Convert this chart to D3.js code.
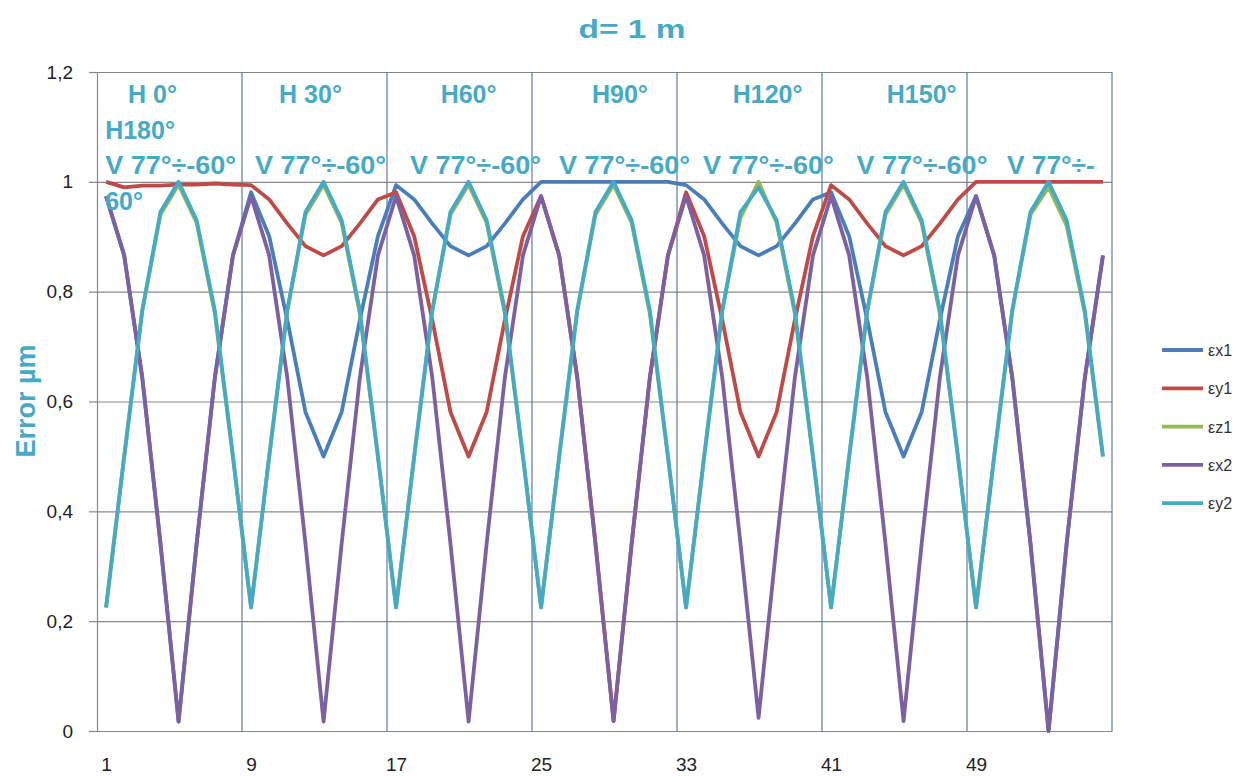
<!DOCTYPE html>
<html>
<head>
<meta charset="utf-8">
<script src="https://cdn.jsdelivr.net/npm/d3@7"></script>
<style>
  body { margin: 0; background: #fff; }
  text { font-family: "Liberation Sans", Arial, sans-serif; }
</style>
</head>
<body>
<div id="chart"></div>
<script>
// 56 measuring positions, 7 groups of 8 (H 0..180 deg, V 77 .. -60 deg)
const categories = d3.range(1, 57);
const xTickLabels = ["1", "9", "17", "25", "33", "41", "49"];
const yTicks = [0, 0.2, 0.4, 0.6, 0.8, 1, 1.2];

const seriesNames = ["εx1", "εy1", "εz1", "εx2", "εy2"];
const seriesColors = ["#4a7ebb", "#be4b48", "#98b954", "#7d60a0", "#46aac5"];

const ex1 = [
  0.974, 0.866, 0.643, 0.342, 0.017, 0.342, 0.643, 0.866,
  0.981, 0.901, 0.748, 0.581, 0.500, 0.581, 0.748, 0.901,
  0.994, 0.968, 0.924, 0.883, 0.866, 0.883, 0.924, 0.968,
  1.000, 1.000, 1.000, 1.000, 1.000, 1.000, 1.000, 1.000,
  0.994, 0.968, 0.924, 0.883, 0.866, 0.883, 0.924, 0.968,
  0.981, 0.901, 0.748, 0.581, 0.500, 0.581, 0.748, 0.901,
  0.974, 0.866, 0.643, 0.342, 0.000, 0.342, 0.643, 0.866
];
const ey1 = [
  1.000, 0.990, 0.993, 0.993, 0.995, 0.995, 0.997, 0.995,
  0.994, 0.968, 0.924, 0.883, 0.866, 0.883, 0.924, 0.968,
  0.981, 0.901, 0.748, 0.581, 0.500, 0.581, 0.748, 0.901,
  0.974, 0.866, 0.643, 0.342, 0.018, 0.342, 0.643, 0.866,
  0.981, 0.901, 0.748, 0.581, 0.500, 0.581, 0.748, 0.901,
  0.994, 0.968, 0.924, 0.883, 0.866, 0.883, 0.924, 0.968,
  1.000, 1.000, 1.000, 1.000, 1.000, 1.000, 1.000, 1.000
];
const ez1 = [
  0.225, 0.500, 0.766, 0.940, 0.995, 0.925, 0.760, 0.500,
  0.225, 0.500, 0.766, 0.940, 0.995, 0.925, 0.760, 0.500,
  0.225, 0.500, 0.766, 0.940, 0.995, 0.925, 0.760, 0.500,
  0.225, 0.500, 0.766, 0.940, 0.995, 0.925, 0.760, 0.500,
  0.225, 0.500, 0.766, 0.935, 1.000, 0.925, 0.760, 0.500,
  0.225, 0.500, 0.766, 0.940, 0.995, 0.925, 0.760, 0.500,
  0.225, 0.500, 0.766, 0.940, 0.990, 0.920, 0.760, 0.500
];
const ex2 = [
  0.974, 0.866, 0.643, 0.342, 0.017, 0.342, 0.643, 0.866,
  0.974, 0.866, 0.643, 0.342, 0.017, 0.342, 0.643, 0.866,
  0.974, 0.866, 0.643, 0.342, 0.017, 0.342, 0.643, 0.866,
  0.974, 0.866, 0.643, 0.342, 0.018, 0.342, 0.643, 0.866,
  0.974, 0.866, 0.643, 0.342, 0.024, 0.342, 0.643, 0.866,
  0.974, 0.866, 0.643, 0.342, 0.018, 0.342, 0.643, 0.866,
  0.974, 0.866, 0.643, 0.342, 0.000, 0.342, 0.643, 0.866
];
const ey2 = [
  0.225, 0.500, 0.766, 0.945, 1.000, 0.930, 0.766, 0.500,
  0.225, 0.500, 0.766, 0.945, 1.000, 0.930, 0.766, 0.500,
  0.225, 0.500, 0.766, 0.945, 1.000, 0.930, 0.766, 0.500,
  0.225, 0.500, 0.766, 0.945, 1.000, 0.930, 0.766, 0.500,
  0.225, 0.500, 0.766, 0.945, 0.990, 0.930, 0.766, 0.500,
  0.225, 0.500, 0.766, 0.945, 1.000, 0.930, 0.766, 0.500,
  0.225, 0.500, 0.766, 0.945, 1.000, 0.930, 0.766, 0.500
];
const seriesValues = [ex1, ey1, ez1, ex2, ey2];

// annotation texts placed in category units
const hLabels = [
  { text: "H 0°", at: 3.56 }, { text: "H 30°", at: 12.28 }, { text: "H60°", at: 21.0 },
  { text: "H90°", at: 29.35 }, { text: "H120°", at: 37.5 }, { text: "H150°", at: 46.0 }
];
const vLabels = [
  { text: "V 77°÷-60°", at: 0.95 }, { text: "V 77°÷-60°", at: 9.22 }, { text: "V 77°÷-60°", at: 17.77 },
  { text: "V 77°÷-60°", at: 25.99 }, { text: "V 77°÷-60°", at: 33.93 }, { text: "V 77°÷-60°", at: 42.4 },
  { text: "V 77°÷-", at: 50.7 }
];

const W = 1251, H = 776;
const plotLeft = 97, plotRight = 1112, plotTop = 72, plotBottom = 731;
const teal = "#46aac5";

const svg = d3.select("#chart").append("svg")
  .attr("width", W)
  .attr("height", H);

const x = d3.scaleLinear().domain([0.5, 56.5]).range([plotLeft, plotRight]);
const y = d3.scaleLinear().domain([0, 1.2]).range([plotBottom, plotTop]);

// horizontal gridlines
svg.append("g")
  .attr("transform", `translate(${plotLeft},0)`)
  .call(d3.axisLeft(y).tickValues(yTicks).tickSize(-(plotRight - plotLeft)).tickSizeOuter(0).tickFormat(""))
  .call(g => g.select(".domain").remove())
  .call(g => g.selectAll(".tick line").attr("stroke", "#888").attr("stroke-width", 1.2));

// vertical gridlines at group boundaries
svg.append("g")
  .selectAll("line")
  .data([8.5, 16.5, 24.5, 32.5, 40.5, 48.5, 56.5])
  .enter()
  .append("line")
  .attr("x1", d => x(d))
  .attr("x2", d => x(d))
  .attr("y1", plotTop)
  .attr("y2", plotBottom)
  .attr("stroke", "#5e7aa8")
  .attr("stroke-width", 1.2);

// y axis
svg.append("g")
  .attr("transform", `translate(${plotLeft},0)`)
  .call(d3.axisLeft(y).tickValues(yTicks).tickSize(8).tickPadding(16)
    .tickFormat(d => d3.format("~g")(d).replace(".", ",")))
  .call(g => g.select(".domain").attr("stroke", "#888").attr("stroke-width", 1.2))
  .call(g => g.selectAll(".tick line").attr("stroke", "#888").attr("stroke-width", 1.2))
  .call(g => g.selectAll("text").attr("font-size", 19).attr("fill", "#222")
    .attr("font-family", "'Liberation Sans', Arial, sans-serif"));

// x axis
svg.append("g")
  .attr("transform", `translate(0,${plotBottom})`)
  .call(d3.axisBottom(x).tickValues(xTickLabels.map(Number)).tickSize(0).tickPadding(27)
    .tickSizeOuter(0))
  .call(g => g.select(".domain").attr("stroke", "#888").attr("stroke-width", 1.2))
  .call(g => g.selectAll("text").attr("font-size", 19).attr("fill", "#222")
    .attr("font-family", "'Liberation Sans', Arial, sans-serif"));

// series lines
const line = d3.line()
  .x((d, i) => x(categories[i]))
  .y(d => y(d));

svg.append("g")
  .selectAll("path")
  .data(seriesValues)
  .enter()
  .append("path")
  .attr("d", d => line(d))
  .attr("fill", "none")
  .attr("stroke", (d, i) => seriesColors[i])
  .attr("stroke-width", 3.8)
  .attr("stroke-linejoin", "round");

// title and axis title
svg.append("text")
  .attr("x", 632)
  .attr("y", 38)
  .attr("text-anchor", "middle")
  .attr("font-size", 25)
  .attr("font-weight", "bold")
  .attr("fill", teal)
  .attr("textLength", 107)
  .attr("lengthAdjust", "spacingAndGlyphs")
  .text("d= 1 m");

svg.append("text")
  .attr("transform", "translate(35,401) rotate(-90)")
  .attr("text-anchor", "middle")
  .attr("font-size", 27)
  .attr("font-weight", "bold")
  .attr("fill", teal)
  .text("Error µm");

// annotations in the plot
const ann = svg.append("g")
  .attr("font-size", 25)
  .attr("font-weight", "bold")
  .attr("fill", teal);

ann.selectAll(".h")
  .data(hLabels)
  .enter()
  .append("text")
  .attr("x", d => x(d.at))
  .attr("y", 103)
  .attr("text-anchor", "middle")
  .text(d => d.text);

ann.append("text")
  .attr("x", x(0.95))
  .attr("y", 139)
  .text("H180°");

ann.selectAll(".v")
  .data(vLabels)
  .enter()
  .append("text")
  .attr("x", d => x(d.at))
  .attr("y", 174)
  .attr("textLength", d => d.text.length > 8 ? 131 : 88)
  .attr("lengthAdjust", "spacingAndGlyphs")
  .text(d => d.text);

ann.append("text")
  .attr("x", x(0.95))
  .attr("y", 210)
  .text("60°");

// legend
const legend = svg.append("g")
  .selectAll("g")
  .data(seriesNames)
  .enter()
  .append("g")
  .attr("transform", (d, i) => `translate(1162,${350 + i * 38.3})`);

legend.append("line")
  .attr("x1", 0)
  .attr("x2", 41)
  .attr("stroke", (d, i) => seriesColors[i])
  .attr("stroke-width", 3.8);

legend.append("text")
  .attr("x", 46)
  .attr("y", 6)
  .attr("font-size", 16)
  .attr("fill", "#333")
  .text(d => d);
</script>
</body>
</html>
